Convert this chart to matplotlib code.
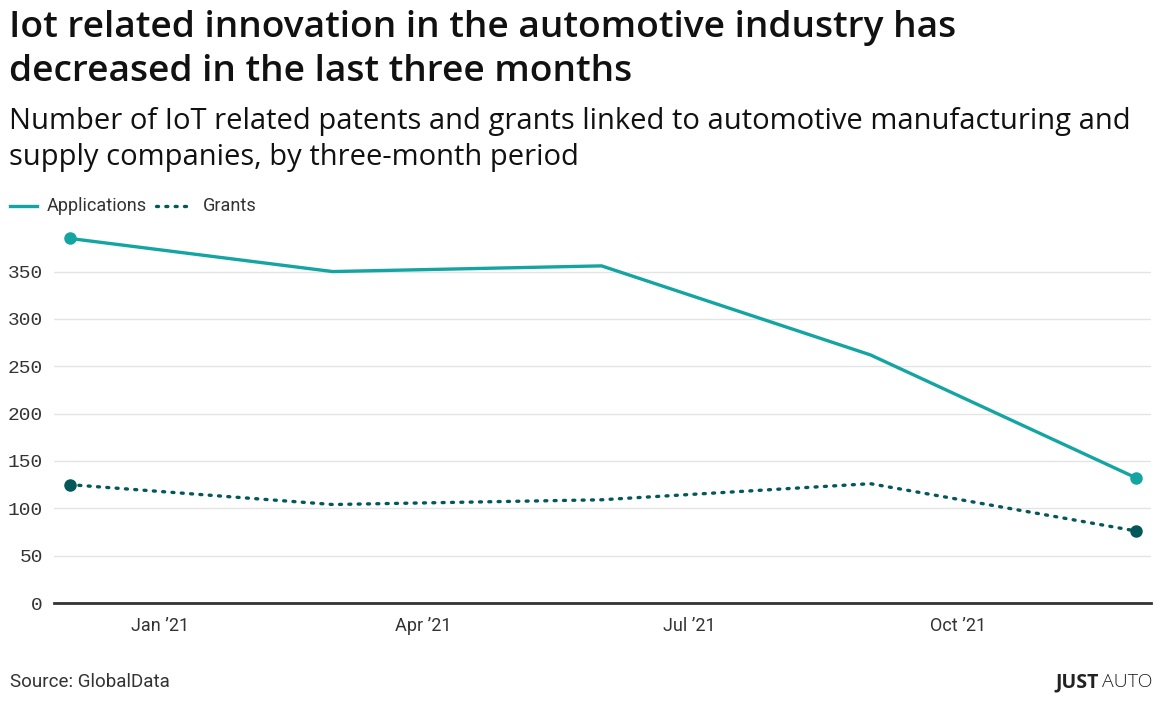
import matplotlib
matplotlib.use("Agg")
import matplotlib.pyplot as plt
import pandas as pd

# ---------------------------------------------------------------------------
# Data
# ---------------------------------------------------------------------------

PERIODS = ["2020-12-01", "2021-03-01", "2021-06-01", "2021-09-01", "2021-12-01"]
APPLICATIONS = [385, 350, 356, 262, 132]
GRANTS = [125, 104, 109, 126, 76]

TICK_DATES = ["2021-01-01", "2021-04-01", "2021-07-01", "2021-10-01"]
TICK_LABELS = ["Jan \u201921", "Apr \u201921", "Jul \u201921", "Oct \u201921"]
Y_TICKS = [0, 50, 100, 150, 200, 250, 300, 350]

TITLE = "Iot related innovation in the automotive industry has\ndecreased in the last three months"
SUBTITLE = ("Number of IoT related patents and grants linked to automotive manufacturing and\n"
            "supply companies, by three-month period")

C_APP = "#14a5a3"
C_GRANT = "#04585a"
HEAD = "Open Sans"
BODY = "Roboto"
W, H = 1169, 716

# ---------------------------------------------------------------------------
# Figure
# ---------------------------------------------------------------------------

dates = pd.to_datetime(PERIODS)

fig = plt.figure(figsize=(W / 100, H / 100), dpi=100)
ax = fig.add_axes([54 / W, 1 - 603 / H, (1151 - 54) / W, (603 - 228) / H])

ax.plot(dates, APPLICATIONS, color=C_APP, lw=2.4, solid_capstyle="round")
ax.plot(dates[[0, -1]], [APPLICATIONS[0], APPLICATIONS[-1]], "o", color=C_APP, ms=8)
ax.plot(dates, GRANTS, color=C_GRANT, lw=2.4, linestyle=(0, (0.6, 2.2)), dash_capstyle="round")
ax.plot(dates[[0, -1]], [GRANTS[0], GRANTS[-1]], "o", color=C_GRANT, ms=8)

ax.set_xlim(pd.Timestamp("2020-11-25 16:00"), pd.Timestamp("2021-12-06"))
ax.set_ylim(0, 396)

ax.set_yticks(Y_TICKS)
ax.set_yticklabels([str(v) for v in Y_TICKS], family="Liberation Mono", fontsize=14, color="#333333")
ax.set_xticks(pd.to_datetime(TICK_DATES))
ax.set_xticklabels(TICK_LABELS, family=BODY, fontsize=13, color="#333333")
ax.tick_params(axis="both", length=0)
ax.tick_params(axis="y", pad=8)
ax.tick_params(axis="x", pad=10)

ax.grid(axis="y", color="#e4e4e4", lw=1)
ax.set_axisbelow(True)
for s in ["top", "right", "left"]:
    ax.spines[s].set_visible(False)
ax.spines["bottom"].set_color("#333333")
ax.spines["bottom"].set_linewidth(2)

# titles
fig.text(9 / W, 1 - 10 / H, TITLE, fontsize=26.7, fontweight="semibold",
         family=HEAD, va="top", ha="left", color="#111111", linespacing=1.31)
fig.text(9 / W, 1 - 107 / H, SUBTITLE, fontsize=21, fontweight="normal",
         family=HEAD, va="top", ha="left", color="#111111", linespacing=1.34)

# legend
ly = 1 - 206 / H
fig.add_artist(plt.Line2D([10 / W, 37 / W], [ly, ly], color=C_APP, lw=2.4))
fig.text(47 / W, ly, "Applications", fontsize=13, family=BODY, va="center",
         ha="left", color="#333333")
fig.add_artist(plt.Line2D([156 / W, 186 / W], [ly, ly], color=C_GRANT, lw=2.4,
                          linestyle=(0, (0.6, 2.2)), dash_capstyle="round"))
fig.text(203 / W, ly, "Grants", fontsize=13, family=BODY, va="center",
         ha="left", color="#333333")

# footer
fig.text(10 / W, 1 - 682 / H, "Source: GlobalData", fontsize=13.5, family=BODY,
         va="center", ha="left", color="#333333")
t = fig.text(1152 / W, 1 - 682 / H, "AUTO", fontsize=14, family=HEAD, fontweight="light",
             va="center", ha="right", color="#222222")
fig.canvas.draw()
bb = t.get_window_extent()
fig.text((bb.x0 - 3) / W, 1 - 682 / H, "JUST", fontsize=14, family=HEAD,
         fontweight="bold", va="center", ha="right", color="#222222")

fig.savefig("out.png", dpi=100)
